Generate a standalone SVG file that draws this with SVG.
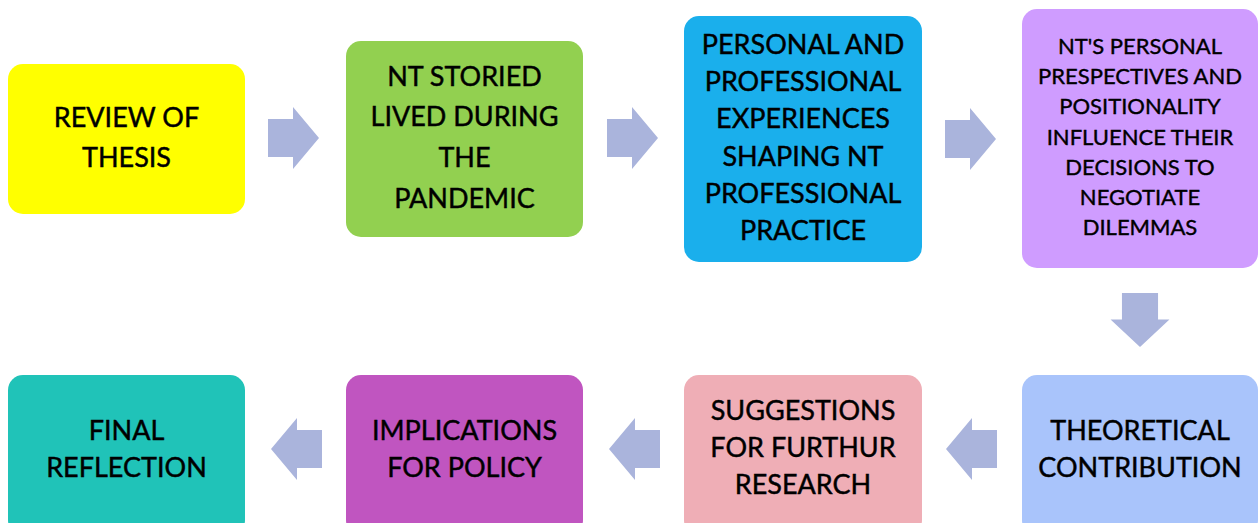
<svg xmlns="http://www.w3.org/2000/svg" width="1259" height="523" viewBox="0 0 1259 523">
<style>
.box{stroke:none}
.t{font-family:Lato,"Open Sans","Liberation Sans",sans-serif;font-size:27px;fill:#000;stroke:#000;stroke-width:0.45px;text-anchor:middle}
.s{font-size:22px;stroke-width:0.4px}
.arr{fill:#AAB4DC}
</style>
<defs>
<path id="ar" d="M0,-19 H25 V-31 L51,0 L25,31 V19 H0 Z"/>
</defs>
<rect width="1259" height="523" fill="#fff"/>
<g id="n1"><rect class="box" x="8" y="64" width="237" height="150" rx="15" fill="#FFFF00"/>
<text class="t" x="126.5" y="127">REVIEW OF</text><text class="t" x="126.5" y="167">THESIS</text></g>
<g id="n2"><rect class="box" x="346" y="41" width="237" height="196" rx="15" fill="#92D050"/>
<text class="t" x="464.5" y="86">NT STORIED</text><text class="t" x="464.5" y="126">LIVED DURING</text><text class="t" x="464.5" y="167">THE</text><text class="t" x="464.5" y="208">PANDEMIC</text></g>
<g id="n3"><rect class="box" x="684" y="16" width="238" height="246" rx="15" fill="#1AAFEC"/>
<text class="t" x="803" y="54">PERSONAL AND</text><text class="t" x="803" y="91">PROFESSIONAL</text><text class="t" x="803" y="128">EXPERIENCES</text><text class="t" x="803" y="166">SHAPING NT</text><text class="t" x="803" y="203">PROFESSIONAL</text><text class="t" x="803" y="240">PRACTICE</text></g>
<g id="n4"><rect class="box" x="1022" y="9" width="236" height="259" rx="15" fill="#CF9CFF"/>
<text class="t s" x="1140" y="54">NT'S PERSONAL</text><text class="t s" x="1140" y="84">PRESPECTIVES AND</text><text class="t s" x="1140" y="114">POSITIONALITY</text><text class="t s" x="1140" y="145">INFLUENCE THEIR</text><text class="t s" x="1140" y="175">DECISIONS TO</text><text class="t s" x="1140" y="205">NEGOTIATE</text><text class="t s" x="1140" y="235">DILEMMAS</text></g>
<g id="n5"><rect class="box" x="1022" y="375" width="236" height="160" rx="15" fill="#A9C4FB"/>
<text class="t" x="1140" y="440">THEORETICAL</text><text class="t" x="1140" y="477">CONTRIBUTION</text></g>
<g id="n6"><rect class="box" x="684" y="375" width="238" height="160" rx="15" fill="#EFAEB6"/>
<text class="t" x="803" y="420">SUGGESTIONS</text><text class="t" x="803" y="457">FOR FURTHUR</text><text class="t" x="803" y="494">RESEARCH</text></g>
<g id="n7"><rect class="box" x="346" y="375" width="237" height="160" rx="15" fill="#C055C0"/>
<text class="t" x="464.5" y="440">IMPLICATIONS</text><text class="t" x="464.5" y="477">FOR POLICY</text></g>
<g id="n8"><rect class="box" x="8" y="375" width="237" height="160" rx="15" fill="#20C3B8"/>
<text class="t" x="126.5" y="440">FINAL</text><text class="t" x="126.5" y="477">REFLECTION</text></g>
<g id="connectors" class="arr">
<use href="#ar" transform="translate(268,138)"/>
<use href="#ar" transform="translate(607,138)"/>
<use href="#ar" transform="translate(945,139)"/>
<use href="#ar" transform="translate(1140,293) rotate(90) scale(1.06,0.95)"/>
<use href="#ar" transform="translate(997,449) scale(-1,1)"/>
<use href="#ar" transform="translate(660,449) scale(-1,1)"/>
<use href="#ar" transform="translate(322,449) scale(-1,1)"/>
</g>
</svg>
